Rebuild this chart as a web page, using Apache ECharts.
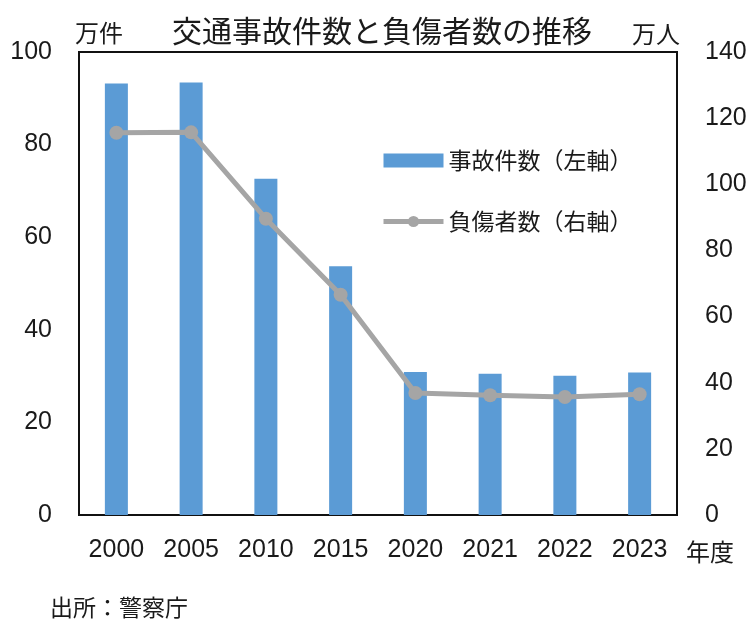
<!DOCTYPE html>
<html><head><meta charset="utf-8">
<script src="https://cdn.jsdelivr.net/npm/echarts@6/dist/echarts.min.js"></script>
<style>html,body{margin:0;padding:0;background:#fff}#c{width:750px;height:628px}</style>
</head><body><div id="c"></div>
<script>
const years = ['2000','2005','2010','2015','2020','2021','2022','2023'];
const accidents = [93.2, 93.4, 72.6, 53.7, 30.9, 30.5, 30.1, 30.8];
const injured = [115.6, 115.7, 89.6, 66.6, 36.9, 36.2, 35.7, 36.5];
const leftTicks = [0, 20, 40, 60, 80, 100];
const rightTicks = [0, 20, 40, 60, 80, 100, 120, 140];

const JP = '"Noto Sans CJK JP", sans-serif';
const NUM = '"Liberation Sans", sans-serif';
const TXT = '#1a1a1a';
const chart = echarts.init(document.getElementById('c'));
chart.setOption({
  animation: false,
  backgroundColor: '#fff',
  title: {
    text: '交通事故件数と負傷者数の推移',
    left: 377, top: 11, textAlign: 'center',
    textStyle: {fontFamily: JP, fontSize: 30, fontWeight: 'normal', color: TXT}
  },
  legend: {
    orient: 'vertical', left: 381, top: 149, itemGap: 38, padding: 0,
    itemWidth: 60, itemHeight: 14,
    textStyle: {fontFamily: JP, fontSize: 23, color: TXT},
    data: [
      {name: '事故件数（左軸）', icon: 'rect'},
      {name: '負傷者数（右軸）', lineStyle: {width: 5, color: '#a5a5a5'}}
    ]
  },
  grid: {left: 79, right: 73, top: 52, bottom: 113, show: true, borderColor: '#111', borderWidth: 2, containLabel: false},
  xAxis: {
    type: 'category', data: years,
    axisLine: {show: false}, axisTick: {show: false},
    axisLabel: {fontFamily: NUM, fontSize: 25, color: TXT, margin: 23, interval: 0, hideOverlap: false}
  },
  yAxis: [
    {type: 'value', min: leftTicks[0], max: leftTicks[leftTicks.length-1], interval: 20,
     splitLine: {show: false}, axisLine: {show: false}, axisTick: {show: false},
     axisLabel: {fontFamily: NUM, fontSize: 25, color: TXT, margin: 27}},
    {type: 'value', min: rightTicks[0], max: rightTicks[rightTicks.length-1], interval: 20,
     splitLine: {show: false}, axisLine: {show: false}, axisTick: {show: false},
     axisLabel: {fontFamily: NUM, fontSize: 25, color: TXT, margin: 28}}
  ],
  series: [
    {name: '事故件数（左軸）', type: 'bar', data: accidents, yAxisIndex: 0,
     barWidth: 23, itemStyle: {color: '#5b9bd5'}},
    {name: '負傷者数（右軸）', type: 'line', data: injured, yAxisIndex: 1,
     symbol: 'circle', symbolSize: 14,
     lineStyle: {color: '#a5a5a5', width: 5}, itemStyle: {color: '#a5a5a5'}}
  ],
  graphic: [
    {type: 'text', x: 75, y: 33, style: {text: '万件', font: '24px ' + JP, fill: TXT, verticalAlign: 'middle'}},
    {type: 'text', x: 632, y: 34, style: {text: '万人', font: '24px ' + JP, fill: TXT, verticalAlign: 'middle'}},
    {type: 'text', x: 686, y: 552, style: {text: '年度', font: '24px ' + JP, fill: TXT, verticalAlign: 'middle'}},
    {type: 'text', x: 50, y: 607, style: {text: '出所：警察庁', font: '23px ' + JP, fill: TXT, verticalAlign: 'middle'}}
  ]
});
</script></body></html>
